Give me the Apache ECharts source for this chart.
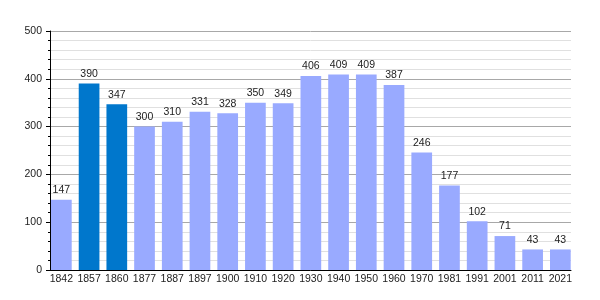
<!DOCTYPE html>
<html>
<head>
<meta charset="utf-8">
<style>html,body{margin:0;padding:0;background:#fff}#c{width:600px;height:300px}</style>
<script src="https://cdn.jsdelivr.net/npm/echarts@6/dist/echarts.min.js"></script>
</head>
<body>
<div id="c"></div>
<script>
const years = ['1842','1857','1860','1877','1887','1897','1900','1910','1920','1930','1940','1950','1960','1970','1981','1991','2001','2011','2021'];
const population = [147,390,347,300,310,331,328,350,349,406,409,409,387,246,177,102,71,43,43];
const highlightYears = ['1857','1860'];
const yTicks = [0,100,200,300,400,500];

const chart = echarts.init(document.getElementById('c'), null, {renderer:'canvas'});
const font = 'Liberation Sans, Arial, sans-serif';
chart.setOption({
  animation:false,
  grid:[
    {left:50, right:29, top:31, bottom:30},
    {left:47.5, right:25.8, top:31, bottom:30}
  ],
  xAxis:[
    {gridIndex:0, type:'value', min:0, max:1, axisLine:{show:true, lineStyle:{color:'#000'}}, axisTick:{show:false}, axisLabel:{show:false}, splitLine:{show:false}},
    {gridIndex:1, type:'category', data:years, axisLine:{show:false}, axisTick:{show:false},
     axisLabel:{interval:0, hideOverlap:false, margin:4, color:'#222', fontSize:10.5, fontFamily:font}}
  ],
  yAxis:[
    {gridIndex:0, type:'value', min:yTicks[0], max:yTicks[yTicks.length-1], interval:100,
     axisLine:{show:true, lineStyle:{color:'#000'}},
     axisTick:{show:true, length:4, lineStyle:{color:'#000'}},
     minorTick:{show:true, splitNumber:5, length:2, lineStyle:{color:'#000'}},
     axisLabel:{margin:8, color:'#222', fontSize:10.5, fontFamily:font},
     splitLine:{show:true, lineStyle:{color:'#a8a8a8'}},
     minorSplitLine:{show:true, lineStyle:{color:'#e0e0e0'}}},
    {gridIndex:1, type:'value', min:0, max:500, show:false}
  ],
  series:[{
    type:'bar', xAxisIndex:1, yAxisIndex:1, barWidth:20.7,
    data: population.map((v,i)=>({value:v, itemStyle:{color: highlightYears.includes(years[i]) ? '#0077cc' : '#99aaff'}})),
    label:{show:true, position:'top', distance:4, color:'#222', fontSize:10.5, fontFamily:font}
  }]
});
</script>
</body>
</html>
